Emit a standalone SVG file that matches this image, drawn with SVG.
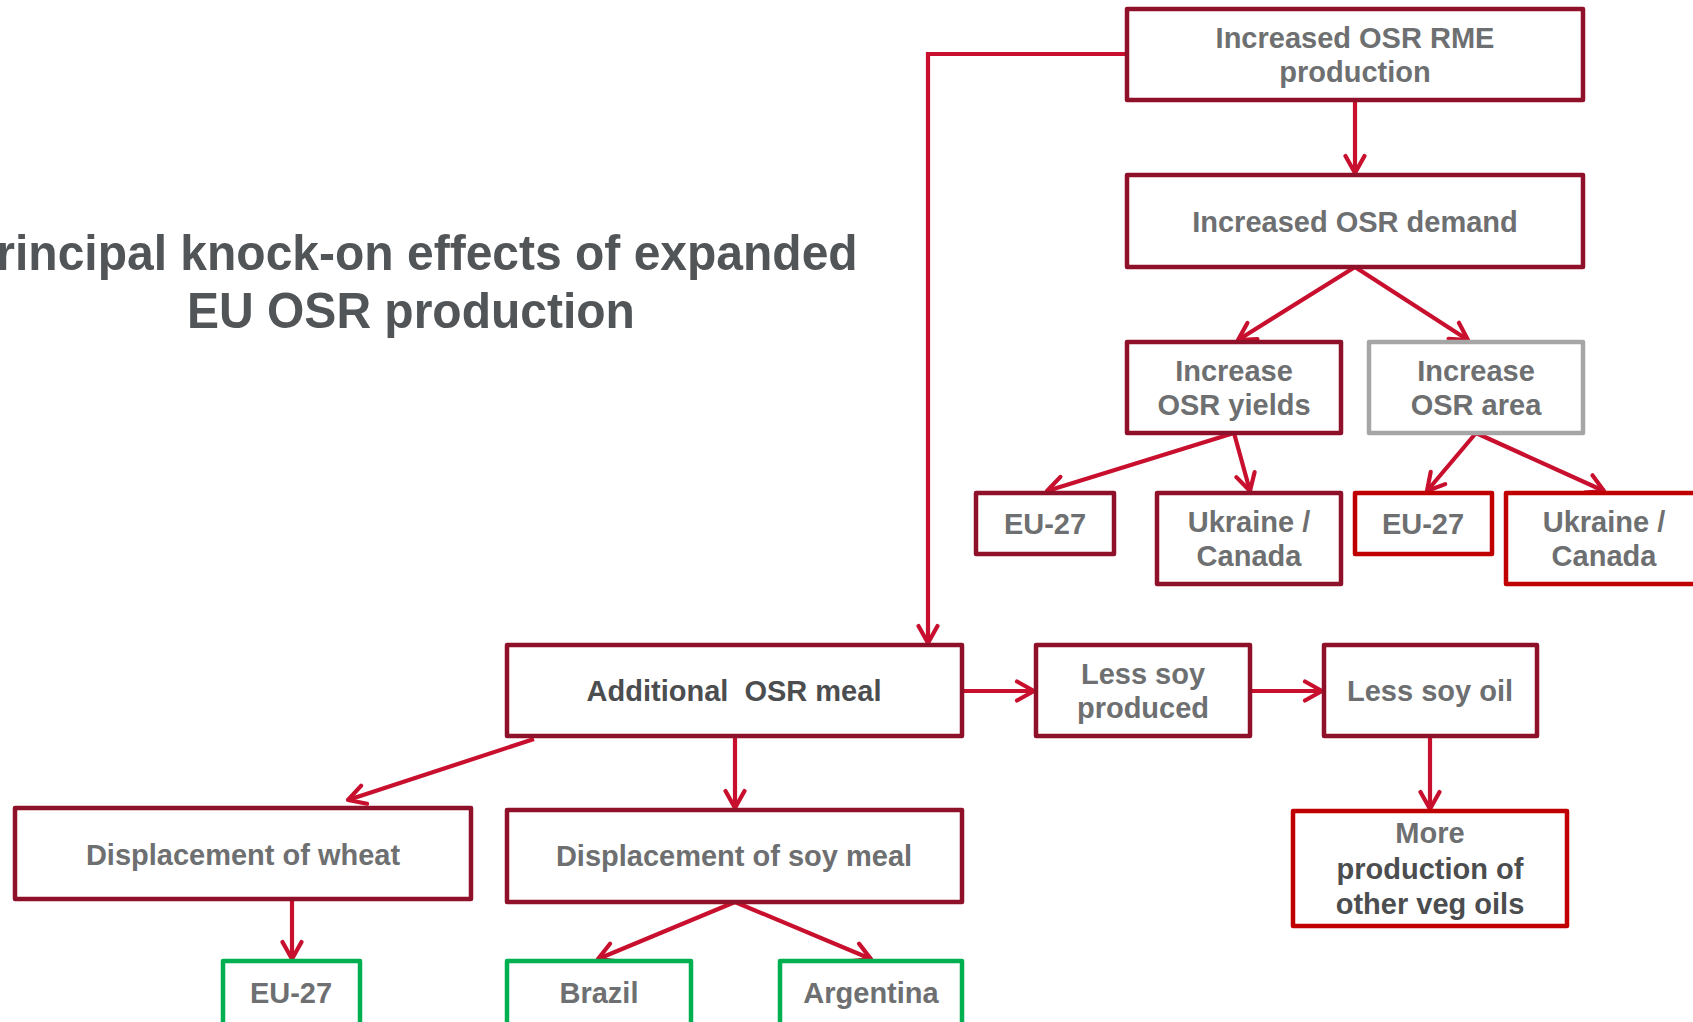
<svg xmlns="http://www.w3.org/2000/svg" width="1693" height="1022" viewBox="0 0 1693 1022">
<style>
.box{fill:#fff;stroke-width:4.5;stroke-linejoin:round}
.maroon{stroke:#8E1129}
.red{stroke:#C00000}
.green{stroke:#00B050}
.gray{stroke:#A6A6A6}
.t{font-family:"Liberation Sans",Arial,sans-serif;font-weight:bold;font-size:29px;text-anchor:middle;fill:#6D6F71}
.dk{fill:#4B4D4F}
.title{font-family:"Liberation Sans",Arial,sans-serif;font-weight:bold;font-size:48px;text-anchor:middle;fill:#525557}
.c{fill:none;stroke:#C8102E;stroke-width:4.2;marker-end:url(#arr)}
</style>
<defs>
<marker id="arr" viewBox="0 0 24 24" markerWidth="24" markerHeight="24" markerUnits="userSpaceOnUse" refX="21" refY="12" orient="auto">
<path d="M4,2.5 L21,12 L4,21.5" fill="none" stroke="#C8102E" stroke-width="4.2" stroke-linecap="round" stroke-linejoin="round"/>
</marker>
</defs>
<rect width="1693" height="1022" fill="#fff"/>
<g id="title" transform="translate(0,300) scale(1,1.05) translate(0,-300)">
<text class="title" x="411" y="271">Principal knock-on effects of expanded</text>
<text class="title" x="411" y="327">EU OSR production</text>
</g>
<g id="connectors">
<path class="c" d="M1127,54 H928 V643"/>
<path class="c" d="M1355,100 V173"/>
<path class="c" d="M1355,267 L1238,340"/>
<path class="c" d="M1355,267 L1468,340"/>
<path class="c" d="M1234,433 L1047,491"/>
<path class="c" d="M1234,433 L1250,491"/>
<path class="c" d="M1476,433 L1427,491"/>
<path class="c" d="M1476,433 L1604,491"/>
<path class="c" d="M962,691 H1034"/>
<path class="c" d="M1250,691 H1322"/>
<path class="c" d="M1430,736 V809"/>
<path class="c" d="M735,736 V808"/>
<path class="c" d="M534,739 L348,800"/>
<path class="c" d="M292,892 V959"/>
<path class="c" d="M735,902 L598,959"/>
<path class="c" d="M735,902 L871,959"/>
</g>
<g id="n-rme">
<rect class="box maroon" x="1127" y="9" width="456" height="91"/>
<text class="t" x="1355" y="48">Increased OSR RME</text>
<text class="t" x="1355" y="82">production</text>
</g>
<g id="n-demand">
<rect class="box maroon" x="1127" y="175" width="456" height="92"/>
<text class="t" x="1355" y="232">Increased OSR demand</text>
</g>
<g id="n-yields">
<rect class="box maroon" x="1127" y="342" width="214" height="91"/>
<text class="t" x="1234" y="381">Increase</text>
<text class="t" x="1234" y="415">OSR yields</text>
</g>
<g id="n-area">
<rect class="box gray" x="1369" y="342" width="214" height="91"/>
<text class="t" x="1476" y="381">Increase</text>
<text class="t" x="1476" y="415">OSR area</text>
</g>
<g id="n-eu27-y">
<rect class="box maroon" x="976" y="493" width="138" height="61"/>
<text class="t" x="1045" y="534">EU-27</text>
</g>
<g id="n-uc-y">
<rect class="box maroon" x="1157" y="493" width="184" height="91"/>
<text class="t" x="1249" y="532">Ukraine /</text>
<text class="t" x="1249" y="566">Canada</text>
</g>
<g id="n-eu27-a">
<rect class="box red" x="1355" y="493" width="137" height="61"/>
<text class="t" x="1423" y="534">EU-27</text>
</g>
<g id="n-uc-a">
<rect class="box red" x="1506" y="493" width="196" height="91"/>
<text class="t" x="1604" y="532">Ukraine /</text>
<text class="t" x="1604" y="566">Canada</text>
</g>
<g id="n-meal">
<rect class="box maroon" x="507" y="645" width="455" height="91"/>
<text class="t dk" x="734" y="701" xml:space="preserve">Additional  OSR meal</text>
</g>
<g id="n-lesssoy">
<rect class="box maroon" x="1036" y="645" width="214" height="91"/>
<text class="t" x="1143" y="684">Less soy</text>
<text class="t" x="1143" y="718">produced</text>
</g>
<g id="n-soyoil">
<rect class="box maroon" x="1324" y="645" width="213" height="91"/>
<text class="t" x="1430" y="701">Less soy oil</text>
</g>
<g id="n-vegoils">
<rect class="box red" x="1293" y="811" width="274" height="115"/>
<text class="t" x="1430" y="843">More</text>
<text class="t dk" x="1430" y="879">production of</text>
<text class="t dk" x="1430" y="914">other veg oils</text>
</g>
<g id="n-wheat">
<rect class="box maroon" x="15" y="808" width="456" height="91"/>
<text class="t" x="243" y="865">Displacement of wheat</text>
</g>
<g id="n-soymeal">
<rect class="box maroon" x="507" y="810" width="455" height="92"/>
<text class="t" x="734" y="866">Displacement of soy meal</text>
</g>
<g id="n-eu27-w">
<rect class="box green" x="223" y="961" width="137" height="66"/>
<text class="t" x="291" y="1003">EU-27</text>
</g>
<g id="n-brazil">
<rect class="box green" x="507" y="961" width="184" height="66"/>
<text class="t" x="599" y="1003">Brazil</text>
</g>
<g id="n-argentina">
<rect class="box green" x="780" y="961" width="182" height="66"/>
<text class="t" x="871" y="1003">Argentina</text>
</g>
</svg>
